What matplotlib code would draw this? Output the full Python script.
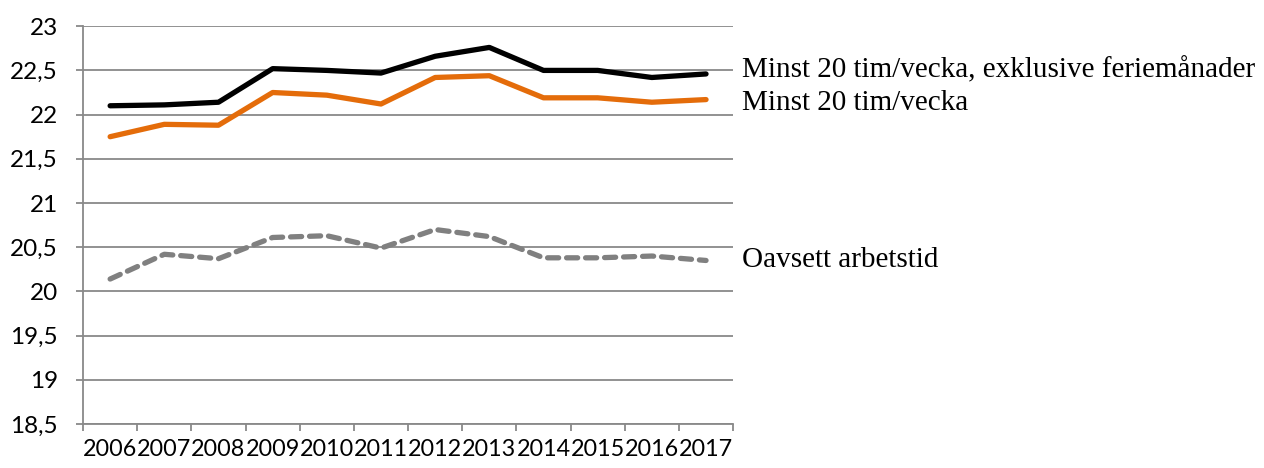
import matplotlib
matplotlib.use('Agg')
import matplotlib.pyplot as plt
from matplotlib.ticker import FixedLocator, FuncFormatter

# data
years = ['2006', '2007', '2008', '2009', '2010', '2011',
         '2012', '2013', '2014', '2015', '2016', '2017']
minst20_exkl = [22.10, 22.11, 22.14, 22.52, 22.50, 22.47,
                22.66, 22.76, 22.50, 22.50, 22.42, 22.46]
minst20 = [21.75, 21.89, 21.88, 22.25, 22.22, 22.12,
           22.42, 22.44, 22.19, 22.19, 22.14, 22.17]
oavsett = [20.14, 20.42, 20.37, 20.61, 20.63, 20.49,
           20.70, 20.62, 20.38, 20.38, 20.40, 20.35]

series_names = ['Minst 20 tim/vecka, exklusive feriemånader',
                'Minst 20 tim/vecka',
                'Oavsett arbetstid']
label_y = [22.5, 22.13, 20.35]

fig = plt.figure(figsize=(12.64, 4.68), dpi=100)
ax = fig.add_axes([0.0657, 0.094, 0.5143, 0.850])

x = range(len(years))
grey = '#898989'

ax.plot(x, minst20_exkl, color='black', lw=3.8, solid_capstyle='round', solid_joinstyle='round', zorder=4)
ax.plot(x, minst20, color='#E46C0A', lw=3.8, solid_capstyle='round', solid_joinstyle='round', zorder=3)
ax.plot(x, oavsett, color='#808080', lw=3.8, linestyle=(0, (2.1, 1.5)),
        dash_capstyle='round', dash_joinstyle='round', zorder=3)

ax.set_xlim(-0.5, len(years) - 0.5)
ax.set_ylim(18.5, 23)

# y axis
ax.yaxis.set_major_locator(FixedLocator([18.5 + 0.5 * i for i in range(10)]))
ax.yaxis.set_major_formatter(FuncFormatter(lambda v, p: ('%g' % v).replace('.', ',')))
ax.grid(axis='y', color=grey, lw=1.3)
ax.set_axisbelow(True)

# x axis: ticks between categories, labels at centres
ax.xaxis.set_major_locator(FixedLocator([i - 0.5 for i in range(len(years) + 1)]))
ax.xaxis.set_major_formatter(FuncFormatter(lambda v, p: ''))
ax.xaxis.set_minor_locator(FixedLocator(list(x)))
ax.set_xticklabels(years, minor=True)
ax.tick_params(axis='x', which='minor', length=0, pad=11)
ax.tick_params(axis='x', which='major', length=5, width=1.3, color=grey, direction='out')
ax.tick_params(axis='y', length=5, width=1.3, color=grey, direction='out', pad=13)

for lab in ax.get_xticklabels(minor=True):
    lab.set_fontfamily('Lato')
    lab.set_fontsize(16.8)
for lab in ax.get_yticklabels():
    lab.set_fontfamily('Lato')
    lab.set_fontsize(17.5)

for s in ['top', 'right']:
    ax.spines[s].set_visible(False)
for s in ['left', 'bottom']:
    ax.spines[s].set_color(grey)
    ax.spines[s].set_linewidth(1.3)

# series labels to the right of the plot
for name, yv in zip(series_names, label_y):
    ax.text(1.013, yv, name, transform=ax.get_yaxis_transform(),
            fontfamily='Liberation Serif', fontsize=21, va='center', ha='left')

fig.savefig('out.png', dpi=100)
